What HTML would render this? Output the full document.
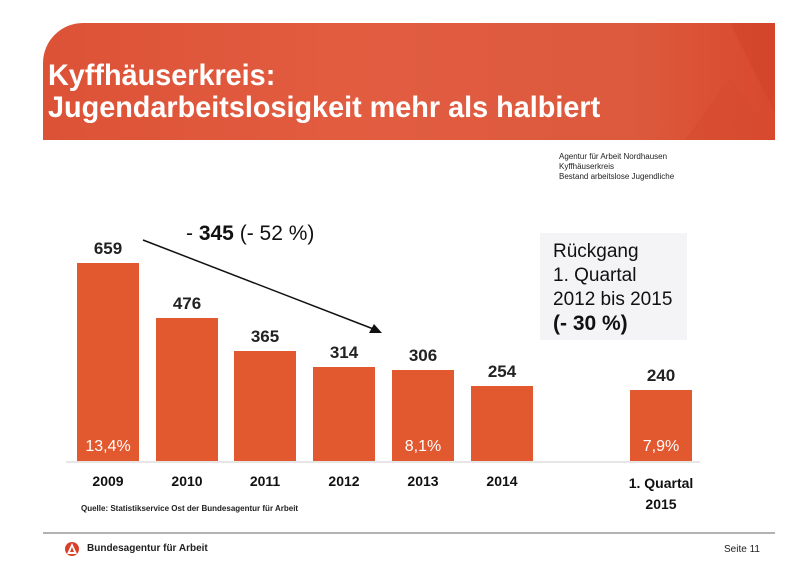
<!DOCTYPE html>
<html><head><meta charset="utf-8"><style>
body{margin:0;width:800px;height:566px;background:#fff;position:relative;overflow:hidden;font-family:"Liberation Sans",sans-serif}
.a{position:absolute}
.bar{position:absolute;background:#e2582f;width:62px;bottom:105px}
.v{position:absolute;font-weight:bold;font-size:17px;color:#222;width:62px;text-align:center}
.y{position:absolute;font-weight:bold;font-size:14px;color:#111;width:80px;text-align:center;top:473px}
.p{position:absolute;color:#fff;font-size:16px;width:62px;text-align:center;top:438px}
</style></head><body>
<div class="a" style="left:43px;top:23px;width:732px;height:117px;border-top-left-radius:40px;background:linear-gradient(90deg,#dc5237,#e25c40 40%,#dd5a3e 80%,#d8492e)"></div>
<svg class="a" style="left:600px;top:23px" width="175" height="117"><polygon points="85,117 130,55 175,117" fill="#d64a2e" opacity=".5"/><polygon points="130,0 175,0 175,90" fill="#cf4128" opacity=".5"/></svg>
<div class="a" style="left:48px;top:60px;color:#fff;font-size:30px;font-weight:bold;line-height:32px;transform:scaleX(.96);transform-origin:left">Kyffhäuserkreis:<br>Jugendarbeitslosigkeit mehr als halbiert</div>
<div class="a" style="left:559px;top:152px;font-size:8px;line-height:10px;color:#222">Agentur für Arbeit Nordhausen<br>Kyffhäuserkreis<br>Bestand arbeitslose Jugendliche</div>
<div class="a" style="left:540px;top:233px;width:147px;height:107px;background:#f4f4f6"></div>
<div class="a" style="left:553px;top:240px;font-size:19px;line-height:24px;color:#111">Rückgang<br>1. Quartal<br>2012 bis 2015<br><b style="font-size:21px">(- 30 %)</b></div>
<div class="a" style="left:186px;top:222px;font-size:21px;color:#111">- <b>345</b> (- 52 %)</div>
<svg class="a" style="left:0;top:0" width="800" height="566"><line x1="143" y1="240" x2="376" y2="330" stroke="#111" stroke-width="1.5"/><polygon points="382,333 369,333 374,324" fill="#111"/>
<line x1="66" y1="462" x2="700" y2="462" stroke="#ccc" stroke-width="1"/>
<line x1="43" y1="533" x2="775" y2="533" stroke="#666" stroke-width="1"/>
<circle cx="72" cy="549" r="7" fill="#d8402a"/><polygon points="72,543 67,554 77,554" fill="#fff"/><polygon points="72,547 70,552 74,552" fill="#d8402a"/></svg>
<div class="bar" style="left:77px;top:263px;height:198px"></div>
<div class="bar" style="left:156px;top:318px;height:143px"></div>
<div class="bar" style="left:234px;top:351px;height:110px"></div>
<div class="bar" style="left:313px;top:367px;height:94px"></div>
<div class="bar" style="left:392px;top:370px;height:91px"></div>
<div class="bar" style="left:471px;top:386px;height:75px"></div>
<div class="bar" style="left:630px;top:390px;height:71px"></div>
<div class="v" style="left:77px;top:239px">659</div>
<div class="v" style="left:156px;top:294px">476</div>
<div class="v" style="left:234px;top:327px">365</div>
<div class="v" style="left:313px;top:343px">314</div>
<div class="v" style="left:392px;top:346px">306</div>
<div class="v" style="left:471px;top:362px">254</div>
<div class="v" style="left:630px;top:366px">240</div>
<div class="p" style="left:77px">13,4%</div>
<div class="p" style="left:392px">8,1%</div>
<div class="p" style="left:630px">7,9%</div>
<div class="y" style="left:68px">2009</div>
<div class="y" style="left:147px">2010</div>
<div class="y" style="left:225px">2011</div>
<div class="y" style="left:304px">2012</div>
<div class="y" style="left:383px">2013</div>
<div class="y" style="left:462px">2014</div>
<div class="y" style="left:611px;width:100px;line-height:21px;top:473px">1. Quartal<br>2015</div>
<div class="a" style="left:81px;top:504px;font-size:8px;font-weight:bold;color:#222">Quelle: Statistikservice Ost der Bundesagentur für Arbeit</div>
<div class="a" style="left:87px;top:543px;font-size:10px;font-weight:bold;color:#222">Bundesagentur für Arbeit</div>
<div class="a" style="left:724px;top:544px;font-size:10px;color:#222">Seite 11</div>
</body></html>
